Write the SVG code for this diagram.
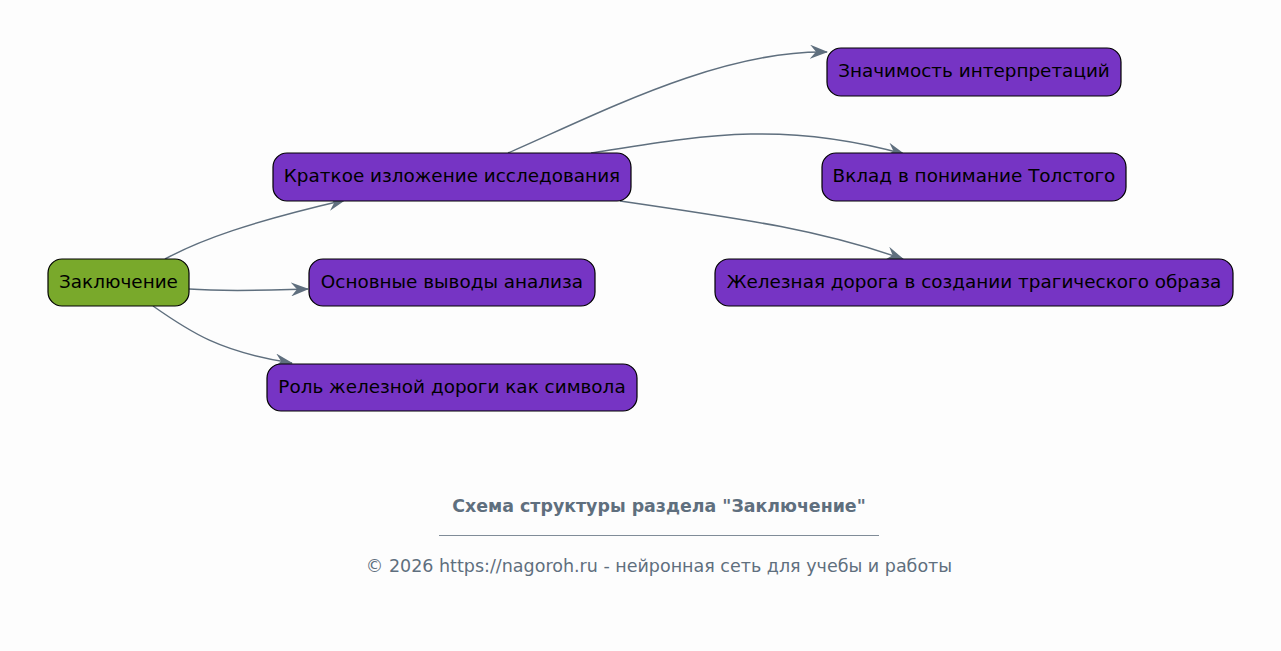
<svg xmlns="http://www.w3.org/2000/svg" width="1281" height="651" viewBox="0 0 1281 651">
<style>
.node rect{fill:#7634c4;stroke:#000;stroke-width:1.2}
#n0 rect{fill:#79a92b}
.node text{font-family:"DejaVu Sans",sans-serif;font-size:18.4px;fill:#000;text-anchor:middle;dominant-baseline:central}
.edges path{fill:none;stroke:#5f6f7e;stroke-width:1.5;marker-end:url(#arr)}
.cap{font-family:"DejaVu Sans",sans-serif;fill:#5f6f7e;text-anchor:middle}
</style>
<defs>
<marker id="arr" viewBox="0 0 18 14" refX="17" refY="7" markerWidth="18" markerHeight="14" markerUnits="userSpaceOnUse" orient="auto">
<path d="M0,0 L18,7 L0,14 L6,7 z" fill="#5f6f7e"/>
</marker>
</defs>
<rect width="1281" height="651" fill="#fdfdfd"/>
<g class="edges">
<path d="M165,259 C200,240 250,222 345,200"/>
<path d="M189,289 C230,292 270,290 308,289"/>
<path d="M153,306 C190,332 220,352 292,363"/>
<path d="M508,153 C600,113 720,50 827,52"/>
<path d="M591,153 C700,136 780,120 904,154"/>
<path d="M620,201 C750,220 820,230 903,259"/>
</g>
<g id="n0" class="node"><rect x="48" y="259" width="141" height="47" rx="14"/><text x="118.5" y="281">Заключение</text></g>
<g id="n1" class="node"><rect x="273" y="153" width="358" height="48" rx="14"/><text x="452" y="175.5">Краткое изложение исследования</text></g>
<g id="n2" class="node"><rect x="309" y="259" width="286" height="47" rx="14"/><text x="452" y="281">Основные выводы анализа</text></g>
<g id="n3" class="node"><rect x="267" y="364" width="370" height="47" rx="14"/><text x="452" y="386">Роль железной дороги как символа</text></g>
<g id="n4" class="node"><rect x="827" y="48" width="294" height="48" rx="14"/><text x="974" y="70.5">Значимость интерпретаций</text></g>
<g id="n5" class="node"><rect x="822" y="153" width="304" height="48" rx="14"/><text x="974" y="175.5">Вклад в понимание Толстого</text></g>
<g id="n6" class="node"><rect x="715" y="259" width="518" height="47" rx="14"/><text x="974" y="281">Железная дорога в создании трагического образа</text></g>
<text class="cap" x="659" y="512" font-size="17.4" font-weight="bold">Схема структуры раздела "Заключение"</text>
<line x1="439" y1="535.5" x2="879" y2="535.5" stroke="#5f6f7e" stroke-width="0.8"/>
<text class="cap" x="659" y="572" font-size="17.5">© 2026 https://nagoroh.ru - нейронная сеть для учебы и работы</text>
</svg>
